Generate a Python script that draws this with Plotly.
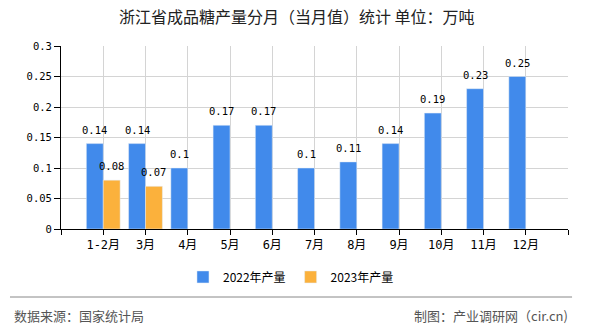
import plotly.graph_objects as go

categories = ["1-2月", "3月", "4月", "5月", "6月", "7月", "8月", "9月", "10月", "11月", "12月"]
values_2022 = [0.14, 0.14, 0.10, 0.17, 0.17, 0.10, 0.11, 0.14, 0.19, 0.23, 0.25]
values_2023 = [0.08, 0.07, None, None, None, None, None, None, None, None, None]
series_names = ["2022年产量", "2023年产量"]
y_ticks = [0, 0.05, 0.1, 0.15, 0.2, 0.25, 0.3]

title_text = "浙江省成品糖产量分月（当月值）统计 单位：万吨"
source_text = "数据来源：国家统计局"
credit_text = "制图：产业调研网（cir.cn)"

BLUE = "#418AEB"
ORANGE = "#FBB13C"
MONO = "DejaVu Sans Mono, Noto Sans CJK SC, sans-serif"
CJK = "Noto Sans CJK SC, sans-serif"

idx = list(range(len(categories)))

fig = go.Figure()
fig.add_trace(go.Bar(x=idx, y=values_2022, name=series_names[0], marker_color=BLUE,
                     width=0.4, offset=-0.4, hoverinfo="skip"))
fig.add_trace(go.Bar(x=idx, y=values_2023, name=series_names[1], marker_color=ORANGE,
                     width=0.4, offset=0.0, hoverinfo="skip"))

annotations = []
for i, v in zip(idx, values_2022):
    if v is not None:
        annotations.append(dict(x=i - 0.2, y=v, xref="x", yref="y", text=f"{v:g}",
                                showarrow=False, yanchor="bottom", yshift=6,
                                font=dict(family=MONO, size=10.5, color="#000")))
for i, v in zip(idx, values_2023):
    if v is not None:
        annotations.append(dict(x=i + 0.2, y=v, xref="x", yref="y", text=f"{v:g}",
                                showarrow=False, yanchor="bottom", yshift=6,
                                font=dict(family=MONO, size=10.5, color="#000")))

annotations.append(dict(x=-0.0966, y=-0.47, xref="paper", yref="paper", text=source_text,
                        showarrow=False, xanchor="left", yanchor="middle",
                        font=dict(family=CJK, size=13, color="#555")))
annotations.append(dict(x=1.004, y=-0.47, xref="paper", yref="paper", text=credit_text,
                        showarrow=False, xanchor="right", yanchor="middle",
                        font=dict(family=CJK, size=13, color="#555")))

fig.update_layout(
    width=590, height=330,
    margin=dict(l=61, r=22, t=46, b=101),
    paper_bgcolor="white", plot_bgcolor="white",
    title=dict(text=title_text, x=0.503, y=0.948, xanchor="center", yanchor="middle",
               font=dict(family=CJK, size=16, color="#222")),
    barmode="overlay",
    showlegend=True,
    legend=dict(orientation="h", x=0.4536, xanchor="center", y=-0.262, yanchor="middle",
                font=dict(family=CJK, size=12, color="#000"), itemwidth=30),
    annotations=annotations,
    shapes=[dict(type="line", xref="paper", yref="paper", x0=-0.1006, x1=1.008,
                 y0=-0.3716, y1=-0.3716, line=dict(color="#888", width=1))],
    xaxis=dict(range=[-1, len(categories)], tickmode="array",
               tickvals=list(range(-1, len(categories) + 1)),
               ticktext=[""] + categories + [""],
               showline=True, linecolor="#000", linewidth=1,
               ticks="outside", ticklen=5, tickcolor="#000",
               showgrid=True, gridcolor="#d4d4d4", gridwidth=1, zeroline=False,
               tickfont=dict(family=MONO, size=12, color="#000")),
    yaxis=dict(range=[0, 0.3], tickmode="array", tickvals=y_ticks,
               ticktext=[f"{t:g}" for t in y_ticks],
               showline=True, linecolor="#000", linewidth=1,
               ticks="outside", ticklen=6, tickcolor="#000",
               showgrid=True, gridcolor="#d4d4d4", gridwidth=1, zeroline=False,
               tickfont=dict(family=MONO, size=10.5, color="#000")),
)

fig.write_html("out.html")
